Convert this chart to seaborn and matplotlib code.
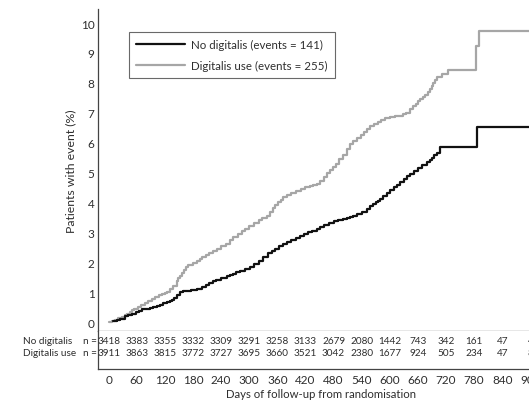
import matplotlib
matplotlib.use("Agg")
import matplotlib.pyplot as plt
import matplotlib.transforms as mtransforms
import seaborn as sns
import pandas as pd

# Cumulative event curves (day, % of patients with event)
days_no_dig = [9, 18, 25, 35, 42, 50, 58, 65, 72, 80, 88, 95, 103, 110, 117, 124,
               130, 135, 140, 145, 152, 158, 165, 176, 188, 200, 208, 215, 222,
               230, 240, 252, 258, 265, 272, 280, 290, 302, 311, 320, 330, 340,
               348, 355, 364, 373, 381, 390, 399, 408, 416, 425, 434, 444, 452,
               460, 470, 480, 490, 500, 508, 515, 522, 530, 540, 551, 558, 565,
               570, 575, 580, 586, 593, 600, 608, 615, 622, 630, 636, 643, 651,
               660, 669, 679, 685, 690, 695, 700, 707, 785, 1000]
pct_no_dig = [0.05, 0.08, 0.10, 0.20, 0.24, 0.28, 0.33, 0.38, 0.42, 0.45, 0.48,
              0.50, 0.54, 0.58, 0.62, 0.67, 0.71, 0.75, 0.82, 0.90, 1.00, 1.03,
              1.05, 1.08, 1.10, 1.17, 1.23, 1.30, 1.36, 1.42, 1.48, 1.54, 1.58,
              1.62, 1.67, 1.72, 1.78, 1.85, 1.95, 2.05, 2.18, 2.30, 2.38, 2.45,
              2.53, 2.61, 2.68, 2.75, 2.82, 2.88, 2.94, 3.00, 3.05, 3.11, 3.18,
              3.25, 3.32, 3.38, 3.42, 3.45, 3.48, 3.51, 3.55, 3.60, 3.69, 3.78,
              3.87, 3.95, 4.00, 4.05, 4.12, 4.20, 4.30, 4.40, 4.50, 4.60, 4.70,
              4.80, 4.88, 4.95, 5.05, 5.15, 5.25, 5.35, 5.42, 5.50, 5.57, 5.65,
              5.85, 6.52, 6.52]

days_dig = [0, 8, 14, 20, 28, 35, 40, 46, 50, 55, 62, 70, 78, 85, 92, 100, 108,
            115, 120, 125, 132, 138, 145, 148, 152, 156, 160, 165, 170, 180, 188,
            194, 200, 208, 215, 223, 231, 240, 250, 258, 266, 276, 285, 292, 300,
            310, 320, 328, 337, 344, 350, 356, 362, 368, 373, 381, 390, 400, 410,
            420, 430, 437, 444, 452, 460, 467, 473, 479, 485, 492, 500, 508, 515,
            522, 530, 538, 545, 552, 558, 566, 575, 582, 590, 600, 611, 622, 629,
            635, 643, 649, 655, 660, 664, 670, 675, 681, 686, 690, 693, 697, 700,
            712, 724, 784, 790, 1000]
pct_dig = [0.0, 0.05, 0.08, 0.12, 0.17, 0.22, 0.28, 0.35, 0.40, 0.45, 0.51, 0.58,
           0.65, 0.72, 0.78, 0.85, 0.90, 0.95, 0.98, 1.02, 1.10, 1.20, 1.37, 1.46,
           1.55, 1.65, 1.75, 1.84, 1.92, 1.98, 2.04, 2.10, 2.17, 2.23, 2.30, 2.37,
           2.44, 2.53, 2.62, 2.73, 2.85, 2.95, 3.05, 3.12, 3.20, 3.30, 3.40, 3.47,
           3.55, 3.67, 3.80, 3.90, 4.00, 4.09, 4.18, 4.25, 4.32, 4.38, 4.45, 4.50,
           4.55, 4.58, 4.62, 4.73, 4.85, 4.98, 5.10, 5.20, 5.30, 5.45, 5.60, 5.78,
           5.95, 6.05, 6.15, 6.25, 6.35, 6.46, 6.56, 6.63, 6.70, 6.76, 6.82, 6.86,
           6.88, 6.90, 6.95, 7.00, 7.12, 7.21, 7.30, 7.38, 7.46, 7.53, 7.60, 7.70,
           7.79, 7.90, 8.00, 8.10, 8.19, 8.30, 8.43, 9.23, 9.73, 9.73]

# Numbers at risk
risk_days = [0, 60, 120, 180, 240, 300, 360, 420, 480, 540, 600, 660, 720, 780, 840, 900]
risk_no_dig = [3418, 3383, 3355, 3332, 3309, 3291, 3258, 3133, 2679, 2080, 1442,
               743, 342, 161, 47, 4]
risk_dig = [3911, 3863, 3815, 3772, 3727, 3695, 3660, 3521, 3042, 2380, 1677,
            924, 505, 234, 47, 8]

group_names = ["No digitalis", "Digitalis use"]
legend_labels = ["No digitalis (events = 141)", "Digitalis use (events = 255)"]
colors = {"No digitalis": "#111111", "Digitalis use": "#a6a6a6"}

sns.set_style("white")
plt.rcParams["font.family"] = ["Lato", "DejaVu Sans"]
TXT = "#2e2e2e"
SPINE = "#444444"

df = pd.concat([
    pd.DataFrame({"day": days_no_dig, "pct": pct_no_dig, "group": group_names[0]}),
    pd.DataFrame({"day": days_dig, "pct": pct_dig, "group": group_names[1]}),
])

W, H = 529, 402
fig = plt.figure(figsize=(W / 100, H / 100), dpi=100)

left_px, right_px = 98, 544
ax = fig.add_axes([left_px / W, 1 - 332 / H, (right_px - left_px) / W, (332 - 10) / H])
ax_r = fig.add_axes([left_px / W, 1 - 370 / H, (right_px - left_px) / W, (370 - 332) / H],
                    sharex=ax)

sns.lineplot(data=df, x="day", y="pct", hue="group", palette=colors,
             hue_order=group_names[::-1], estimator=None, drawstyle="steps-post",
             linewidth=1.6, ax=ax, legend=False)

ax.set_ylim(-0.30, 10.47)
ax.set_yticks(range(0, 11))
ax.tick_params(axis="y", direction="in", length=5, width=0.8, pad=2.5,
               labelsize=8.5, colors=SPINE, labelcolor=TXT)
ax.tick_params(axis="x", bottom=False, labelbottom=False)
ax.set_xlabel("")
ax.set_ylabel("Patients with event (%)", fontsize=8.8, color=TXT, labelpad=3.5)
for side in ["top", "right"]:
    ax.spines[side].set_visible(False)
for side in ["left", "bottom"]:
    ax.spines[side].set_color(SPINE)
    ax.spines[side].set_linewidth(0.9)

handles = [plt.Line2D([], [], color=colors[g], lw=1.6) for g in group_names]
leg = ax.legend(handles, legend_labels, loc="upper left",
                bbox_to_anchor=(0.0695, 0.9286), borderaxespad=0, fontsize=8.3,
                handlelength=4.3, handletextpad=0.5, labelspacing=0.85,
                borderpad=0.6, frameon=True, fancybox=False)
leg.get_frame().set_edgecolor(SPINE)
leg.get_frame().set_linewidth(0.8)
for t in leg.get_texts():
    t.set_color(TXT)

# Numbers-at-risk strip
ax_r.set_ylim(0, 1)
row_y = [0.737, 0.447]
for d, a, b in zip(risk_days, risk_no_dig, risk_dig):
    ax_r.text(d, row_y[0], str(a), ha="center", va="center", fontsize=7.2, color=TXT)
    ax_r.text(d, row_y[1], str(b), ha="center", va="center", fontsize=7.2, color=TXT)

row_tf = mtransforms.blended_transform_factory(fig.transFigure, ax_r.transAxes)
for yy, name in zip(row_y, group_names):
    ax_r.text(23 / W, yy, name, transform=row_tf, ha="left", va="center",
              fontsize=7.2, color=TXT)
    ax_r.text(97 / W, yy, "n =", transform=row_tf, ha="right", va="center",
              fontsize=7.2, color=TXT)

ax_r.set_xticks(risk_days)
ax_r.set_xticklabels([str(d) for d in risk_days])
ax_r.tick_params(axis="x", direction="in", length=5, width=0.8, pad=3.5,
                 labelsize=8.5, colors=SPINE, labelcolor=TXT)
ax_r.set_yticks([])
ax_r.set_xlabel("Days of follow-up from randomisation", fontsize=8.2, color=TXT,
                labelpad=2.5)
for side in ["top", "right"]:
    ax_r.spines[side].set_visible(False)
for side in ["left", "bottom"]:
    ax_r.spines[side].set_color(SPINE)
    ax_r.spines[side].set_linewidth(0.9)

# set the shared day range last so tick placement cannot widen it
ax.set_xlim(-22.6, 929)

fig.savefig("out.png", dpi=100)
